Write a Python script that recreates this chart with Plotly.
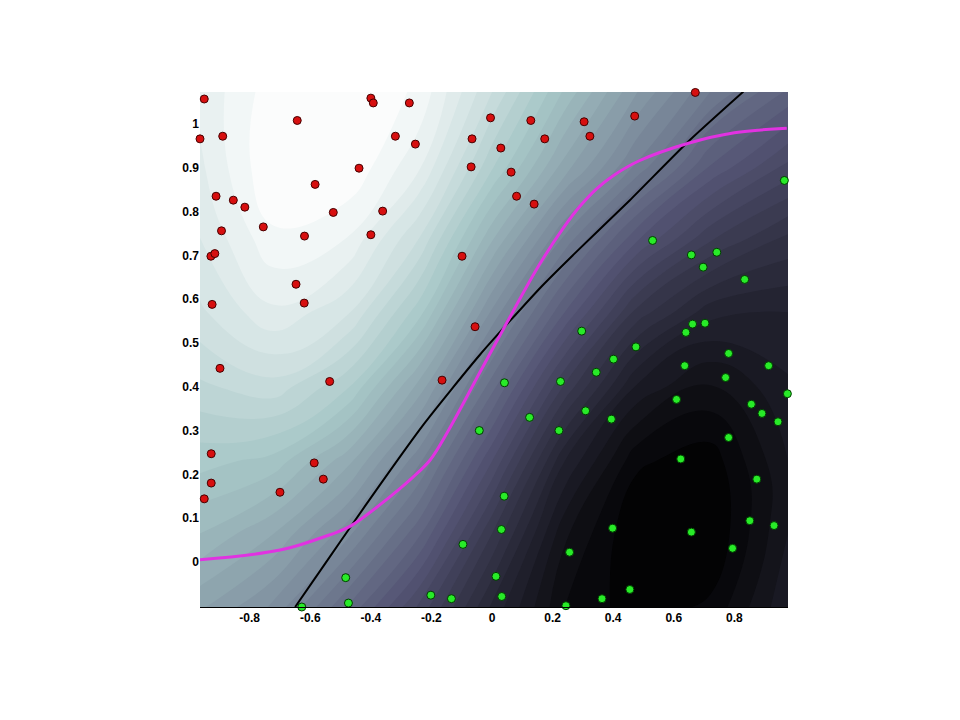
import plotly.graph_objects as go

# ---- data ----
red_x = [-0.950, -0.643, -0.964, -0.889, -0.584, -0.911, -0.854, -0.816, -0.524, -0.755,
         -0.893, -0.619, -0.928, -0.915, -0.400, -0.392, -0.273, -0.005, -0.319, -0.253,
         -0.066, -0.439, -0.069, -0.361, -0.400, -0.099, 0.128, 0.174, 0.304, 0.323,
         0.471, 0.029, 0.063, 0.081, 0.139, 0.671, -0.647, -0.620, -0.924, -0.898,
         -0.536, -0.056, -0.165, -0.927, -0.587, -0.927, -0.557, -0.700, -0.950]
red_y = [1.057, 1.008, 0.966, 0.972, 0.862, 0.835, 0.826, 0.810, 0.798, 0.765,
         0.756, 0.744, 0.698, 0.704, 1.059, 1.048, 1.048, 1.014, 0.972, 0.954,
         0.966, 0.899, 0.902, 0.801, 0.747, 0.698, 1.008, 0.966, 1.005, 0.972,
         1.018, 0.945, 0.890, 0.835, 0.817, 1.072, 0.634, 0.591, 0.588, 0.442,
         0.412, 0.537, 0.415, 0.247, 0.226, 0.180, 0.189, 0.159, 0.144]

green_x = [-0.042, 0.296, 0.475, 0.401, 0.344, 0.041, 0.226, 0.124, 0.309, 0.394,
           0.221, 0.965, 0.530, 0.658, 0.742, 0.697, 0.834, 0.662, 0.703, 0.640,
           0.781, 0.636, 0.913, 0.771, 0.975, 0.609, 0.856, 0.891, 0.944, 0.781,
           -0.628, -0.096, -0.483, -0.474, -0.202, -0.134, 0.040, 0.031, 0.398, 0.256,
           0.013, 0.032, 0.363, 0.455, 0.244, 0.623, 0.874, 0.851, 0.931, 0.658, 0.794]
green_y = [0.300, 0.527, 0.491, 0.463, 0.433, 0.409, 0.412, 0.330, 0.345, 0.326,
           0.300, 0.871, 0.734, 0.701, 0.707, 0.673, 0.645, 0.543, 0.545, 0.524,
           0.476, 0.448, 0.448, 0.421, 0.384, 0.371, 0.360, 0.339, 0.320, 0.284,
           -0.103, 0.040, -0.036, -0.094, -0.076, -0.084, 0.150, 0.074, 0.077, 0.022,
           -0.033, -0.079, -0.084, -0.063, -0.100, 0.235, 0.189, 0.094, 0.083, 0.068, 0.031]

# decision boundary (black) and sigmoid-like curve (magenta)
bound_x = [-0.65, -0.535, -0.469, -0.37, -0.227, -0.04, 0.158, 0.268, 0.455, 0.648, 0.83]
bound_y = [-0.103, 0.012, 0.078, 0.176, 0.313, 0.473, 0.625, 0.701, 0.826, 0.96, 1.074]

curve_x = [-0.964, -0.7, -0.535, -0.469, -0.315, -0.26, -0.205, -0.144, -0.04, 0.037,
           0.153, 0.235, 0.29, 0.345, 0.40, 0.486, 0.648, 0.80, 0.973]
curve_y = [0.005, 0.027, 0.062, 0.081, 0.161, 0.194, 0.232, 0.300, 0.433, 0.531,
           0.675, 0.762, 0.812, 0.852, 0.882, 0.916, 0.956, 0.980, 0.990]

# background field (estimated brightness on the "bone" scale), rows bottom -> top
field_x = [-0.964, -0.72, -0.48, -0.24, 0.0, 0.24, 0.48, 0.72, 0.977]
field_y = [-0.103, 0.065, 0.23, 0.40, 0.57, 0.74, 0.905, 1.073]
field_z = [
    [0.63, 0.57, 0.45, 0.32, 0.17, 0.05, 0.01, 0.03, 0.12],
    [0.70, 0.65, 0.56, 0.43, 0.25, 0.08, 0.00, 0.00, 0.10],
    [0.76, 0.74, 0.66, 0.53, 0.35, 0.15, 0.03, 0.01, 0.10],
    [0.82, 0.84, 0.78, 0.64, 0.46, 0.27, 0.12, 0.07, 0.12],
    [0.87, 0.92, 0.88, 0.76, 0.57, 0.40, 0.24, 0.16, 0.15],
    [0.90, 0.97, 0.95, 0.85, 0.68, 0.52, 0.38, 0.28, 0.22],
    [0.92, 1.00, 1.00, 0.93, 0.78, 0.64, 0.52, 0.40, 0.32],
    [0.93, 0.99, 1.00, 0.97, 0.85, 0.72, 0.60, 0.50, 0.42],
]

x_ticks = [-0.8, -0.6, -0.4, -0.2, 0, 0.2, 0.4, 0.6, 0.8]
x_tick_text = ["-0.8", "-0.6", "-0.4", "-0.2", "0", "0.2", "0.4", "0.6", "0.8"]
y_ticks = [0, 0.1, 0.2, 0.3, 0.4, 0.5, 0.6, 0.7, 0.8, 0.9, 1]
y_tick_text = ["0", "0.1", "0.2", "0.3", "0.4", "0.5", "0.6", "0.7", "0.8", "0.9", "1"]

bone = [[0.0, "rgb(0,0,0)"], [0.375, "rgb(84,84,116)"],
        [0.75, "rgb(167,199,199)"], [1.0, "rgb(255,255,255)"]]

fig = go.Figure()
fig.add_trace(go.Contour(
    x=field_x, y=field_y, z=field_z, colorscale=bone, zmin=0, zmax=1,
    contours=dict(coloring="fill", start=0, end=1, size=0.025),
    line=dict(width=0, smoothing=1.3), showscale=False, hoverinfo="skip"))

fig.add_trace(go.Scatter(x=bound_x, y=bound_y, mode="lines",
                         line=dict(color="black", width=2, shape="spline", smoothing=0.6),
                         showlegend=False))
fig.add_trace(go.Scatter(x=curve_x, y=curve_y, mode="lines",
                         line=dict(color="rgb(225,50,225)", width=3, shape="spline",
                                   smoothing=1.0),
                         showlegend=False))
fig.add_trace(go.Scatter(x=red_x, y=red_y, mode="markers", cliponaxis=False,
                         marker=dict(size=8, color="rgb(215,15,15)",
                                     line=dict(color="rgb(70,0,0)", width=1)),
                         showlegend=False))
fig.add_trace(go.Scatter(x=green_x, y=green_y, mode="markers", cliponaxis=False,
                         marker=dict(size=8, color="rgb(40,235,40)",
                                     line=dict(color="rgb(0,60,0)", width=1)),
                         showlegend=False))

fig.update_layout(
    width=960, height=720,
    margin=dict(l=192, r=180, t=84, b=121),
    paper_bgcolor="white", plot_bgcolor="white",
    showlegend=False,
    xaxis=dict(range=[-0.964, 0.977], tickvals=x_ticks, ticktext=x_tick_text,
               showgrid=False, zeroline=False, showline=True, linecolor="black",
               linewidth=1, ticks="", ticklen=0,
               tickfont=dict(family="Liberation Sans", size=12, color="black", weight="bold")),
    yaxis=dict(range=[-0.103, 1.073], tickvals=y_ticks, ticktext=y_tick_text,
               showgrid=False, zeroline=False, showline=False, ticks="",
               tickfont=dict(family="Liberation Sans", size=12, color="black", weight="bold")),
)

fig.write_html("out.html")
